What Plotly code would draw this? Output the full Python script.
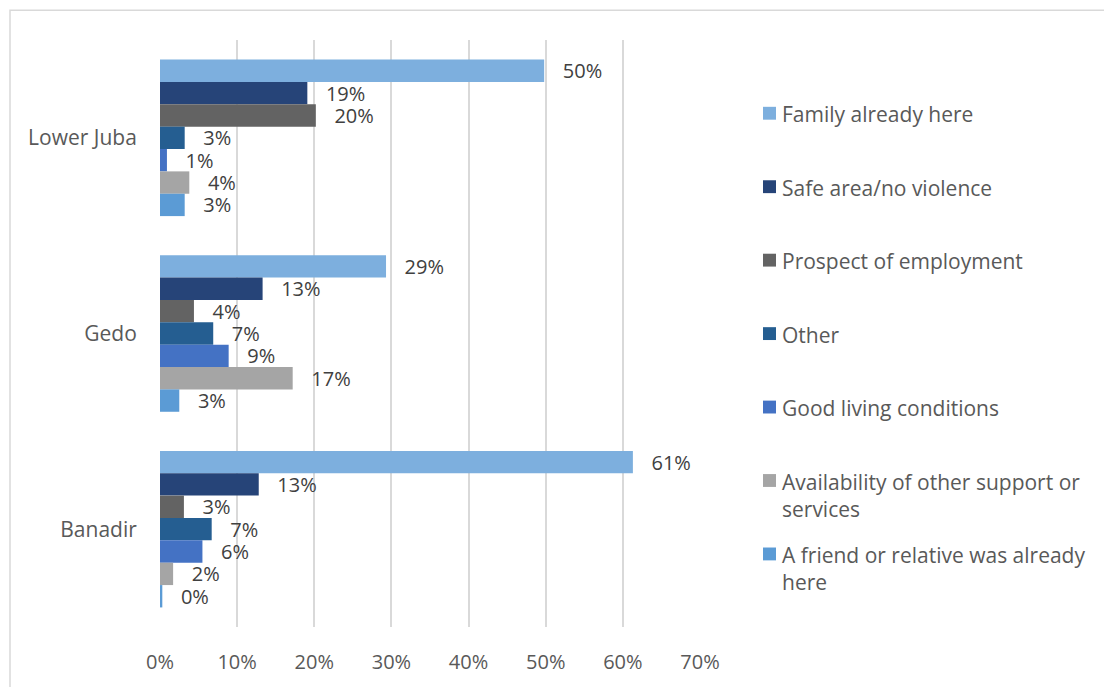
import plotly.graph_objects as go

# Regions (top to bottom) and reasons for settling, as shares of respondents
regions = ["Lower Juba", "Gedo", "Banadir"]

family_already_here = [0.498, 0.293, 0.613]
safe_area_no_violence = [0.191, 0.133, 0.128]
prospect_of_employment = [0.202, 0.044, 0.031]
other = [0.032, 0.069, 0.067]
good_living_conditions = [0.009, 0.089, 0.055]
other_support_services = [0.038, 0.172, 0.017]
friend_or_relative_here = [0.032, 0.025, 0.003]

series_names = [
    "Family already here",
    "Safe area/no violence",
    "Prospect of employment",
    "Other",
    "Good living conditions",
    "Availability of other support or<br>services",
    "A friend or relative was already<br>here",
]
series_values = [
    family_already_here,
    safe_area_no_violence,
    prospect_of_employment,
    other,
    good_living_conditions,
    other_support_services,
    friend_or_relative_here,
]
series_colors = ["#7DAFDE", "#264478", "#636363", "#255E91", "#4472C4", "#A5A5A5", "#5B9BD5"]

x_ticks = [0, 0.1, 0.2, 0.3, 0.4, 0.5, 0.6, 0.7]
x_tick_labels = ["0%", "10%", "20%", "30%", "40%", "50%", "60%", "70%"]

FONT = "Open Sans"
TEXT_GREY = "#595959"
W, H = 1104, 687
M_L, M_R, M_T, M_B = 160, 404, 40, 54

fig = go.Figure()
for name, vals, col in zip(series_names, series_values, series_colors):
    fig.add_trace(go.Bar(
        y=regions,
        x=vals,
        name=name,
        orientation="h",
        marker=dict(color=col, line=dict(width=0)),
        texttemplate="\u00a0\u00a0\u00a0%{x:.0%}",
        textposition="outside",
        textfont=dict(family=FONT, size=20, color="#404040"),
        constraintext="none",
        cliponaxis=False,
        showlegend=False,
        hoverinfo="skip",
    ))


def px_x(px):
    return (px - M_L) / (W - M_L - M_R)


def px_y(py):
    return (H - M_B - py) / (H - M_T - M_B)


# Legend drawn as swatches with labels, one evenly spaced slot per series
shapes = [
    # outer chart border
    dict(type="rect", xref="paper", yref="paper",
         x0=px_x(10), x1=px_x(1110), y0=px_y(700), y1=px_y(10),
         line=dict(color="#D9D9D9", width=1.5), fillcolor="rgba(0,0,0,0)", layer="below"),
]
annotations = []
row_top = 114
row_step = 74.2
for i, (name, col) in enumerate(zip(series_names, series_colors)):
    cy = row_top + i * row_step
    shapes.append(dict(type="rect", xref="paper", yref="paper",
                       x0=px_x(763), x1=px_x(776), y0=px_y(cy + 6.5), y1=px_y(cy - 6.5),
                       line=dict(width=0), fillcolor=col))
    annotations.append(dict(xref="paper", yref="paper", x=px_x(780), y=px_y(cy - 15),
                            xanchor="left", yanchor="top", align="left", showarrow=False,
                            text=name, font=dict(family=FONT, size=21, color=TEXT_GREY)))

fig.update_layout(
    width=W, height=H,
    margin=dict(l=M_L, r=M_R, t=M_T, b=M_B),
    paper_bgcolor="white", plot_bgcolor="white",
    barmode="group", bargap=0.2, bargroupgap=0,
    font=dict(family=FONT, color=TEXT_GREY),
    xaxis=dict(range=[0, 0.7], tickvals=x_ticks, ticktext=x_tick_labels,
               showgrid=True, gridcolor="#D9D9D9", gridwidth=1.5,
               zeroline=False, showline=False,
               ticks="outside", ticklen=17, tickcolor="rgba(0,0,0,0)",
               tickfont=dict(family=FONT, size=20, color=TEXT_GREY)),
    yaxis=dict(autorange="reversed", showgrid=False, zeroline=False, showline=False,
               ticks="outside", ticklen=18, tickcolor="rgba(0,0,0,0)",
               tickfont=dict(family=FONT, size=21, color=TEXT_GREY)),
    shapes=shapes,
    annotations=annotations,
)

fig.write_html("out.html")
